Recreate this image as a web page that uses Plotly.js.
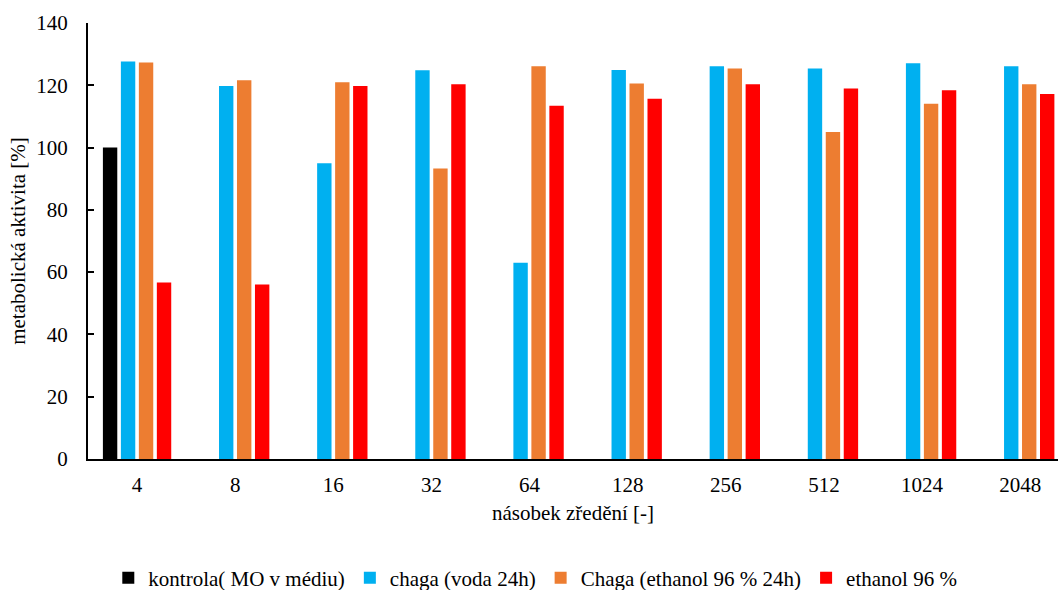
<!DOCTYPE html>
<html>
<head>
<meta charset="utf-8">
<script src="https://cdn.plot.ly/plotly-3.0.1.min.js"></script>
<style>
  html, body { margin: 0; padding: 0; background: #fff; overflow: hidden; }
  #chart { width: 1060px; height: 590px; }
</style>
</head>
<body>
<div id="chart"></div>
<script>
// Dilution factors (x categories)
const dilutions = ['4', '8', '16', '32', '64', '128', '256', '512', '1024', '2048'];

// Metabolic activity [%] per series
const kontrola     = [100, null, null, null, null, null, null, null, null, null];
const chagaVoda    = [127.6, 119.8, 95.0, 124.8, 63.0, 124.9, 126.1, 125.4, 127.1, 126.1];
const chagaEthanol = [127.3, 121.6, 121.0, 93.3, 126.1, 120.6, 125.4, 105.0, 114.1, 120.3];
const ethanol96    = [56.7, 56.0, 119.8, 120.3, 113.4, 115.7, 120.3, 119.0, 118.4, 117.2];

const seriesNames = ['kontrola( MO v médiu)', 'chaga (voda 24h)', 'Chaga (ethanol 96 % 24h)', 'ethanol 96 %'];
const seriesColors = ['#000000', '#00B0F0', '#ED7D31', '#FF0000'];
const seriesValues = [kontrola, chagaVoda, chagaEthanol, ethanol96];

const FONT = 'Times New Roman';
const FS = 21;

const traces = seriesValues.map((vals, i) => ({
  type: 'bar',
  name: seriesNames[i],
  x: dilutions,
  y: vals,
  marker: { color: seriesColors[i], line: { width: 0 } },
  hoverinfo: 'x+y+name'
}));

const layout = {
  width: 1060,
  height: 590,
  margin: { l: 88, r: 2, t: 23, b: 131 },
  paper_bgcolor: '#ffffff',
  plot_bgcolor: '#ffffff',
  font: { family: FONT, size: FS, color: '#000000' },
  barmode: 'group',
  bargap: 0.267,
  bargroupgap: 0.2,
  showlegend: true,
  legend: {
    orientation: 'h',
    xref: 'container',
    yref: 'container',
    x: 0.505,
    xanchor: 'center',
    y: 0.02,
    yanchor: 'middle',
    font: { family: FONT, size: FS, color: '#000000' },
    itemwidth: 30,
    traceorder: 'normal'
  },
  xaxis: {
    type: 'category',
    range: [-0.5, 9.385],
    showline: true,
    linecolor: '#000000',
    linewidth: 2,
    ticks: '',
    showgrid: false,
    zeroline: false,
    ticklabelstandoff: 6,
    tickfont: { family: FONT, size: FS, color: '#000000' },
    title: { text: 'násobek zředění [-]', standoff: 9, font: { family: FONT, size: FS, color: '#000000' } }
  },
  yaxis: {
    range: [0, 140],
    tick0: 0,
    dtick: 20,
    showline: true,
    linecolor: '#000000',
    linewidth: 2,
    ticks: 'inside',
    ticklen: 6,
    tickwidth: 2,
    tickcolor: '#000000',
    showgrid: false,
    zeroline: false,
    ticklabelstandoff: 14,
    tickfont: { family: FONT, size: FS, color: '#000000' },
    title: { text: 'metabolická aktivita [%]', standoff: 5, font: { family: FONT, size: FS, color: '#000000' } }
  }
};

Plotly.newPlot('chart', traces, layout, { displayModeBar: false, staticPlot: true });
</script>
</body>
</html>
